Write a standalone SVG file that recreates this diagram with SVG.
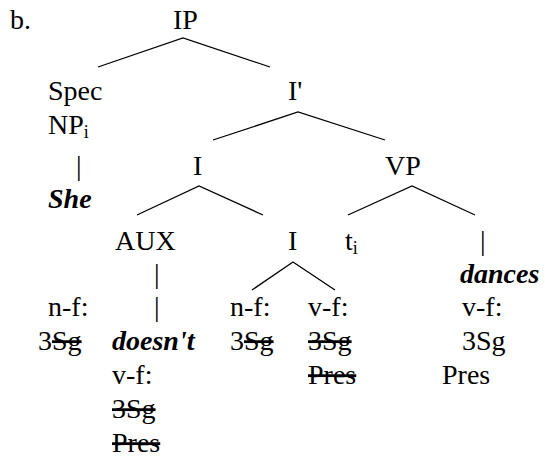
<svg xmlns="http://www.w3.org/2000/svg" width="545" height="463" viewBox="0 0 545 463" font-family="Liberation Serif, Times New Roman, serif" font-size="28">
<style>
.bi{font-weight:bold;font-style:italic}
.s{text-decoration:line-through}
.sub{font-size:18px}
.br{stroke:#000;stroke-width:1.3;fill:none}
</style>
<rect width="545" height="463" fill="#fff"/>
<text x="10" y="29">b.</text>
<g id="connectors">
<polyline class="br" points="98,67 183,38 270,67"/>
<polyline class="br" points="213,140 298,112 385,140"/>
<polyline class="br" points="137,215 199,186 263,215"/>
<polyline class="br" points="348,215 412,186 475,215"/>
<polyline class="br" points="252,290 293,262 335,290"/>
</g>
<g id="IP"><text x="173" y="29">IP</text></g>
<g id="SpecNP"><text x="48" y="100">Spec</text><text x="48" y="134">NP<tspan class="sub" dy="4">i</tspan></text></g>
<g id="Ibar"><text x="288" y="100">I'</text></g>
<g id="She"><text x="76" y="175">|</text><text class="bi" x="48" y="208">She</text></g>
<g id="I1"><text x="193" y="175">I</text></g>
<g id="VP"><text x="385" y="175">VP</text></g>
<g id="AUX"><text x="115" y="250">AUX</text><text x="154" y="283">|</text><text x="154" y="316">|</text></g>
<g id="I2"><text x="288" y="250">I</text></g>
<g id="ti"><text x="345" y="250">t<tspan class="sub" dy="4">i</tspan></text></g>
<g id="dances"><text x="480" y="250">|</text><text class="bi" x="460" y="283">dances</text>
<text x="462" y="316">v-f:</text><text x="462" y="350">3Sg</text><text x="442" y="384">Pres</text></g>
<g id="nf1"><text x="48" y="316">n-f:</text><text x="38" y="350">3<tspan class="s">Sg</tspan></text></g>
<g id="doesnt"><text class="bi" x="112" y="350">doesn't</text><text x="112" y="384">v-f:</text><text class="s" x="112" y="418">3Sg</text><text class="s" x="112" y="452">Pres</text></g>
<g id="nf2"><text x="230" y="316">n-f:</text><text x="230" y="350">3<tspan class="s">Sg</tspan></text></g>
<g id="vf2"><text x="308" y="316">v-f:</text><text class="s" x="308" y="350">3Sg</text><text class="s" x="308" y="384">Pres</text></g>
</svg>
